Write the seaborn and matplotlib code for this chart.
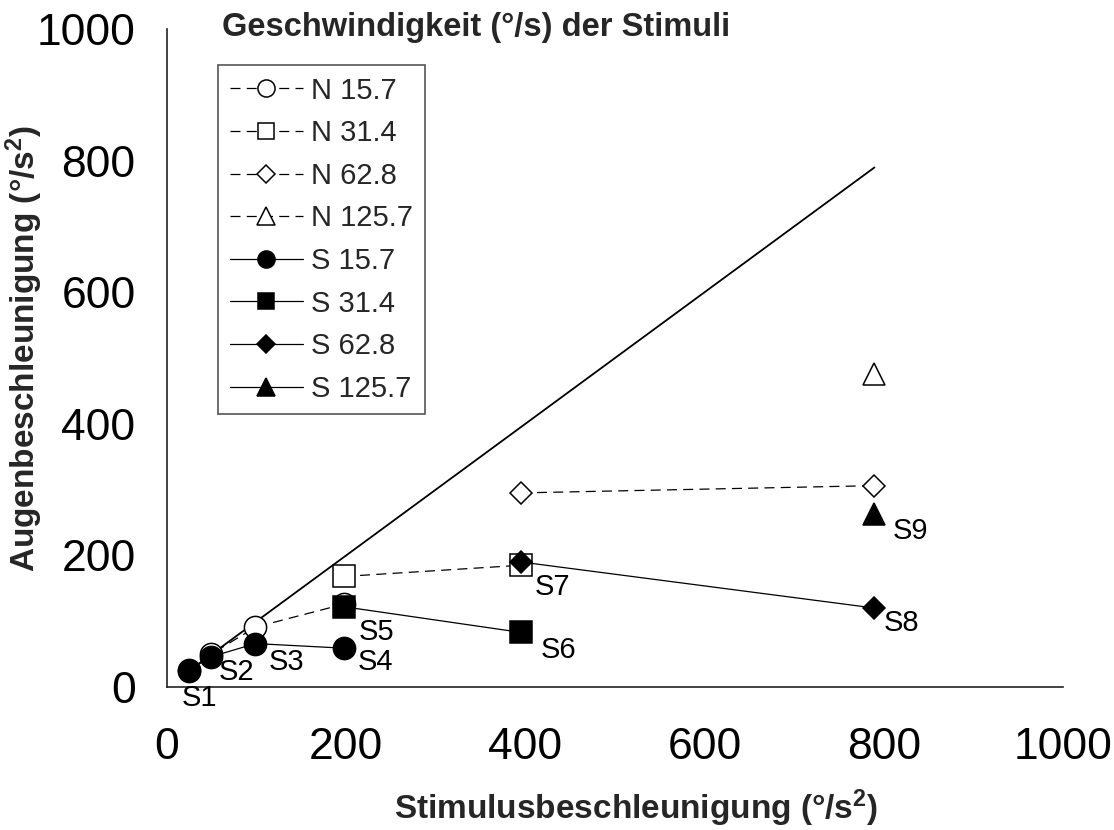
import matplotlib
matplotlib.use("Agg")
import matplotlib.pyplot as plt
import seaborn as sns

# Stimulus accelerations (°/s²) and axis ticks
tick_values = [0, 200, 400, 600, 800, 1000]
diag_x = [24.7, 789.6]

# "N" series (open markers, dashed lines)
n157_x = [24.7, 49.3, 98.7, 197.4]
n157_y = [25, 50, 91, 126]
n314_x = [197.4, 394.8]
n314_y = [168, 185]
n628_x = [394.8, 789.6]
n628_y = [295, 306]
n1257_x = [789.6]
n1257_y = [475]

# "S" series (filled markers, solid lines)
s157_x = [24.7, 49.3, 98.7, 197.4]
s157_y = [26, 46, 66, 59]
s314_x = [197.4, 394.8]
s314_y = [122, 83]
s628_x = [394.8, 789.6]
s628_y = [190, 120]
s1257_x = [789.6]
s1257_y = [263]

series_labels = ["N 15.7", "N 31.4", "N 62.8", "N 125.7",
                 "S 15.7", "S 31.4", "S 62.8", "S 125.7"]
stim_names = ["S1", "S2", "S3", "S4", "S5", "S6", "S7", "S8", "S9"]

sns.set_theme(style="white")
plt.rcParams["font.family"] = ["Liberation Sans", "DejaVu Sans"]
plt.rcParams["mathtext.fontset"] = "custom"
plt.rcParams["mathtext.rm"] = "Liberation Sans"
plt.rcParams["mathtext.bf"] = "Liberation Sans:bold"
plt.rcParams["mathtext.default"] = "bf"

fig = plt.figure(figsize=(11.14, 8.30), dpi=100)
fig.patch.set_facecolor("white")
ax = fig.add_axes([167 / 1114, 1 - 687 / 830, 896 / 1114, 658 / 830])
ax.set_facecolor("white")

# identity line
sns.lineplot(x=diag_x, y=diag_x, ax=ax, color="black", linewidth=1.3,
             estimator=None, sort=False, legend=False)

marker_size = {"o": 16, "s": 15.5, "D": 11.5, "^": 16}
dash = (0, (8, 5))

data = [
    (n157_x, n157_y, "o", False),
    (n314_x, n314_y, "s", False),
    (n628_x, n628_y, "D", False),
    (n1257_x, n1257_y, "^", False),
    (s157_x, s157_y, "o", True),
    (s314_x, s314_y, "s", True),
    (s628_x, s628_y, "D", True),
    (s1257_x, s1257_y, "^", True),
]

for label, (xs, ys, mk, filled) in zip(series_labels, data):
    sns.lineplot(
        x=xs, y=ys, ax=ax, color="black",
        linestyle="-" if filled else dash,
        linewidth=0.9,
        marker=mk, markersize=marker_size[mk],
        markerfacecolor="black" if filled else "white",
        markeredgecolor="black", markeredgewidth=1.1,
        label=label, estimator=None, sort=False, legend=False,
    )

# stimulus labels beside the filled markers
stim_x = s157_x + s314_x + s628_x + s1257_x
stim_y = s157_y + s314_y + s628_y + s1257_y
label_offsets = [(10, -28), (25, -15), (31, -18), (32, -14), (33, -25),
                 (38, -18), (32, -25), (27, -15), (36, -17)]
for name, x, y, off in zip(stim_names, stim_x, stim_y, label_offsets):
    ax.annotate(name, (x, y), xytext=off, textcoords="offset pixels",
                ha="center", va="center", fontsize=21, color="black")

ax.set_xlim(0, 1000)
ax.set_ylim(0, 1000)
ax.set_xticks(tick_values)
ax.set_yticks(tick_values)
ax.set_xticklabels([str(t) for t in tick_values])
ax.set_yticklabels([str(t) for t in tick_values])
sns.despine(ax=ax)
for side in ("left", "bottom"):
    ax.spines[side].set_color("#222222")
    ax.spines[side].set_linewidth(1.2)
ax.tick_params(axis="both", direction="out", length=8.6, width=1.1,
               color="#222222", labelsize=32, labelcolor="black")
ax.tick_params(axis="x", pad=20)
ax.tick_params(axis="y", pad=14)

ax.set_xlabel(r"Stimulusbeschleunigung (°/s$^{2}$)", fontsize=24,
              fontweight="bold")
ax.set_ylabel(r"Augenbeschleunigung (°/s$^{2}$)", fontsize=24,
              fontweight="bold")
ax.xaxis.set_label_coords(0.523, -0.153)
ax.yaxis.set_label_coords(-0.136, 0.515)

ax.text(0.061, 1.003, "Geschwindigkeit (°/s) der Stimuli",
        transform=ax.transAxes, fontsize=23.5, fontweight="bold",
        ha="left", va="center")

leg = ax.legend(loc="upper left", bbox_to_anchor=(0.0569, 0.9453),
                borderaxespad=0, fontsize=21, markerscale=0.77,
                handlelength=2.5, handletextpad=0.3, labelspacing=0.5,
                borderpad=0.4, frameon=True, fancybox=False,
                framealpha=1, edgecolor="#555555")
leg.get_frame().set_linewidth(1.2)

fig.savefig("out.png", dpi=100, facecolor="white")
